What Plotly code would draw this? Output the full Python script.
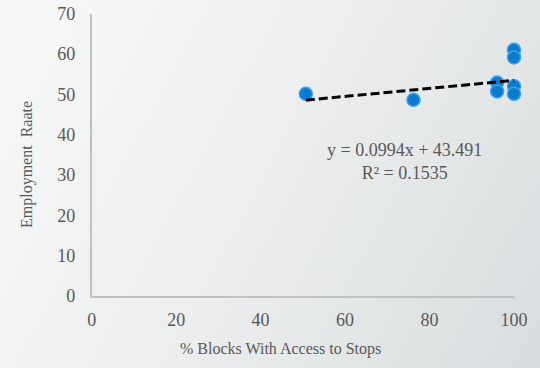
import base64
import plotly.graph_objects as go

# Share of blocks with access to stops vs. employment rate
access_pct = [50.7, 76.2, 96.0, 96.0, 100.0, 100.0, 100.0, 100.0]
employment = [50.1, 48.6, 52.9, 50.7, 61.0, 59.1, 52.0, 50.1]

# Linear trendline as reported on the chart
slope = 0.0994
intercept = 43.491
r_squared = 0.1535

x_ticks = [0, 20, 40, 60, 80, 100]
y_ticks = [0, 10, 20, 30, 40, 50, 60, 70]

W, H = 540, 368
FONT = "Liberation Serif"
TXT = "#595959"

# soft grey gradient behind the whole chart
svg = f"""<svg xmlns='http://www.w3.org/2000/svg' width='{W}' height='{H}' viewBox='0 0 {W} {H}' preserveAspectRatio='none'>
<defs><linearGradient id='g' gradientUnits='userSpaceOnUse' x1='0' y1='0' x2='560' y2='300'>
<stop offset='0' stop-color='#f7f8f8'/><stop offset='0.5' stop-color='#eceeee'/><stop offset='1' stop-color='#dadddf'/>
</linearGradient></defs><rect width='{W}' height='{H}' fill='url(#g)'/></svg>"""
bg_uri = "data:image/svg+xml;base64," + base64.b64encode(svg.encode()).decode()

trend_x = [min(access_pct), max(access_pct)]
trend_y = [slope * v + intercept for v in trend_x]

fig = go.Figure()
fig.add_trace(go.Scatter(
    x=access_pct, y=employment, mode="markers", cliponaxis=False,
    marker=dict(size=13, color="#0b7bd0", line=dict(color="#3aa2ea", width=1.5)),
    showlegend=False,
))
fig.add_trace(go.Scatter(
    x=trend_x, y=trend_y, mode="lines", cliponaxis=False,
    line=dict(color="black", width=3, dash="9px,4px"),
    showlegend=False,
))

fig.update_layout(
    width=W, height=H, autosize=False,
    margin=dict(l=0, r=0, t=0, b=0, pad=0, autoexpand=False),
    paper_bgcolor="#eceeee", plot_bgcolor="rgba(0,0,0,0)",
    font=dict(family=FONT, color=TXT),
    images=[dict(source=bg_uri, xref="paper", yref="paper", x=0, y=1,
                 sizex=1, sizey=1, xanchor="left", yanchor="top",
                 sizing="stretch", layer="below")],
    xaxis=dict(
        domain=[91.7 / W, 514 / W], range=[0, 100], automargin=False,
        tickvals=x_ticks, ticktext=[str(v) for v in x_ticks],
        showgrid=False, zeroline=False, showline=True,
        linecolor="#c0c0c0", linewidth=1.5,
        ticks="outside", ticklen=7, tickcolor="rgba(0,0,0,0)",
        tickfont=dict(family=FONT, size=18, color=TXT),
    ),
    yaxis=dict(
        domain=[1 - 296 / H, 1 - 13.5 / H], range=[0, 70], automargin=False,
        tickvals=y_ticks, ticktext=[str(v) for v in y_ticks],
        showgrid=False, zeroline=False, showline=True,
        linecolor="#c0c0c0", linewidth=1.5,
        ticks="outside", ticklen=11, tickcolor="rgba(0,0,0,0)",
        tickfont=dict(family=FONT, size=18, color=TXT),
    ),
    annotations=[
        dict(text="% Blocks With Access to Stops", xref="paper", yref="paper",
             x=280 / W, y=1 - 349 / H, xanchor="center", yanchor="middle",
             showarrow=False, font=dict(family=FONT, size=16, color=TXT)),
        dict(text="Employment\u00a0 Raate", xref="paper", yref="paper",
             x=27 / W, y=1 - 165 / H, xanchor="center", yanchor="middle",
             textangle=-90, showarrow=False,
             font=dict(family=FONT, size=16, color=TXT)),
        dict(text=f"y = {slope}x + {intercept}<br>R² = {r_squared}",
             xref="paper", yref="paper", x=404 / W, y=1 - 161 / H,
             xanchor="center", yanchor="middle", align="center",
             showarrow=False, font=dict(family=FONT, size=18, color=TXT)),
    ],
)

fig.write_html("out.html")
